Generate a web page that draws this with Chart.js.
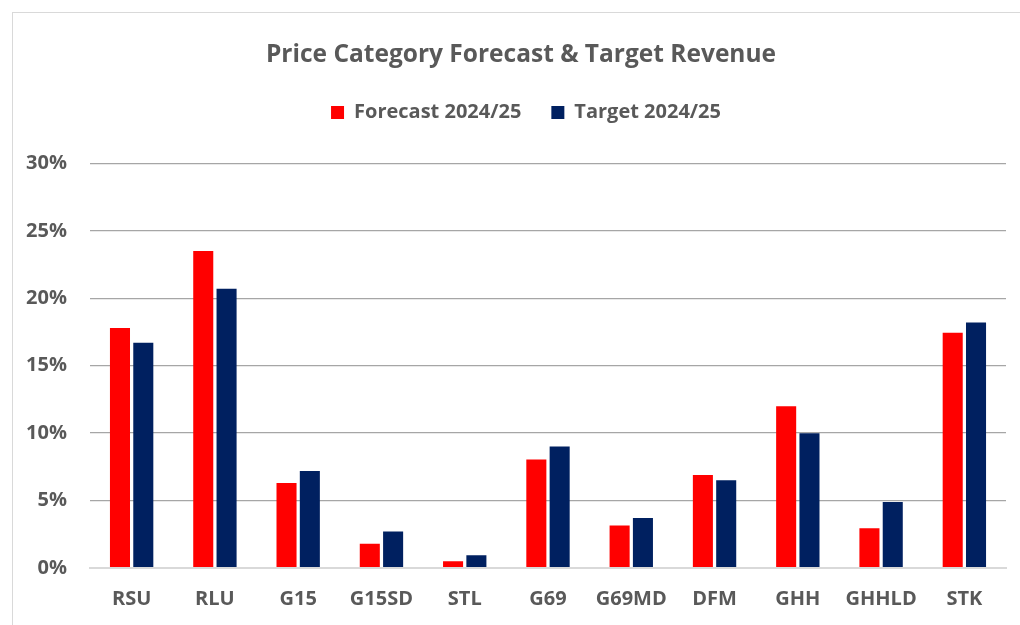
<!DOCTYPE html>
<html>
<head>
<meta charset="utf-8">
<script src="https://cdn.jsdelivr.net/npm/chart.js@4"></script>
<style>
  html, body { margin: 0; padding: 0; background: #ffffff; }
  #wrap { position: relative; width: 1020px; height: 625px; overflow: hidden; }
  #frame { position: absolute; left: 12px; top: 12px; width: 1100px; height: 700px;
           border-left: 1.5px solid #d9d9d9; border-top: 1.5px solid #d9d9d9; pointer-events: none; }
  canvas { position: absolute; left: 0; top: 0; }
</style>
</head>
<body>
<div id="wrap">
  <canvas id="c" width="1020" height="625"></canvas>
  <div id="frame"></div>
</div>
<script>
const categories = ["RSU", "RLU", "G15", "G15SD", "STL", "G69", "G69MD", "DFM", "GHH", "GHHLD", "STK"];
const forecast = [17.8, 23.5, 6.3, 1.8, 0.5, 8.05, 3.15, 6.9, 12.0, 2.95, 17.45];
const target   = [16.7, 20.7, 7.2, 2.7, 0.95, 9.0, 3.7, 6.5, 10.0, 4.9, 18.2];
const yTicks = [0, 5, 10, 15, 20, 25, 30];

const FONT = "'Open Sans', sans-serif";
const TEXT = "#595959";

// Extra space below the legend, and centre title/legend on the whole frame
const headerLayout = {
  id: "headerLayout",
  beforeInit(chart) {
    const origFit = chart.legend.fit;
    chart.legend.fit = function () {
      origFit.bind(chart.legend)();
      this.height += 31;
    };
  },
  afterLayout(chart) {
    const t = chart.titleBlock;
    if (t) { t.left += 18; t.right += 18; }
    const l = chart.legend;
    if (l) {
      l.left += 23; l.right += 23;
      if (l.legendHitBoxes) l.legendHitBoxes.forEach(b => { b.left += 23; });
    }
  }
};

new Chart(document.getElementById("c"), {
  type: "bar",
  plugins: [headerLayout],
  data: {
    labels: categories,
    datasets: [
      { label: "Forecast 2024/25", data: forecast, backgroundColor: "#ff0000",
        barPercentage: 0.86, categoryPercentage: 0.56 },
      { label: "Target 2024/25", data: target, backgroundColor: "#002060",
        barPercentage: 0.86, categoryPercentage: 0.56 }
    ]
  },
  options: {
    responsive: false,
    animation: false,
    devicePixelRatio: 1,
    layout: { padding: { top: 20, right: 14, left: 0, bottom: 0 } },
    plugins: {
      title: {
        display: true,
        text: "Price Category Forecast & Target Revenue",
        color: TEXT,
        font: { family: FONT, size: 24.5, weight: "bold" },
        padding: { top: 20, bottom: 3 }
      },
      legend: {
        display: true,
        labels: {
          color: TEXT,
          font: { family: FONT, size: 20, weight: "bold" },
          boxWidth: 13, boxHeight: 13,
          padding: 30
        }
      },
      tooltip: { enabled: false }
    },
    scales: {
      x: {
        grid: { display: false, drawTicks: false },
        border: { display: true, color: "#d9d9d9", width: 2 },
        ticks: { color: TEXT, font: { family: FONT, size: 20, weight: "bold" }, padding: 19 },
        afterFit: (s) => { s.height = 57; }
      },
      y: {
        min: 0, max: 30,
        afterBuildTicks: (s) => { s.ticks = yTicks.map(v => ({ value: v })); },
        grid: {
          drawTicks: false,
          color: (ctx) => ctx.tick && ctx.tick.value === 0 ? "#d9d9d9" : "#a6a6a6",
          lineWidth: (ctx) => ctx.tick && ctx.tick.value === 0 ? 2 : 1.3
        },
        border: { display: false },
        ticks: {
          color: TEXT, font: { family: FONT, size: 20, weight: "bold" }, padding: 23,
          callback: (v) => v + "%"
        },
        afterFit: (s) => { s.width = 90; }
      }
    }
  }
});
</script>
</body>
</html>
